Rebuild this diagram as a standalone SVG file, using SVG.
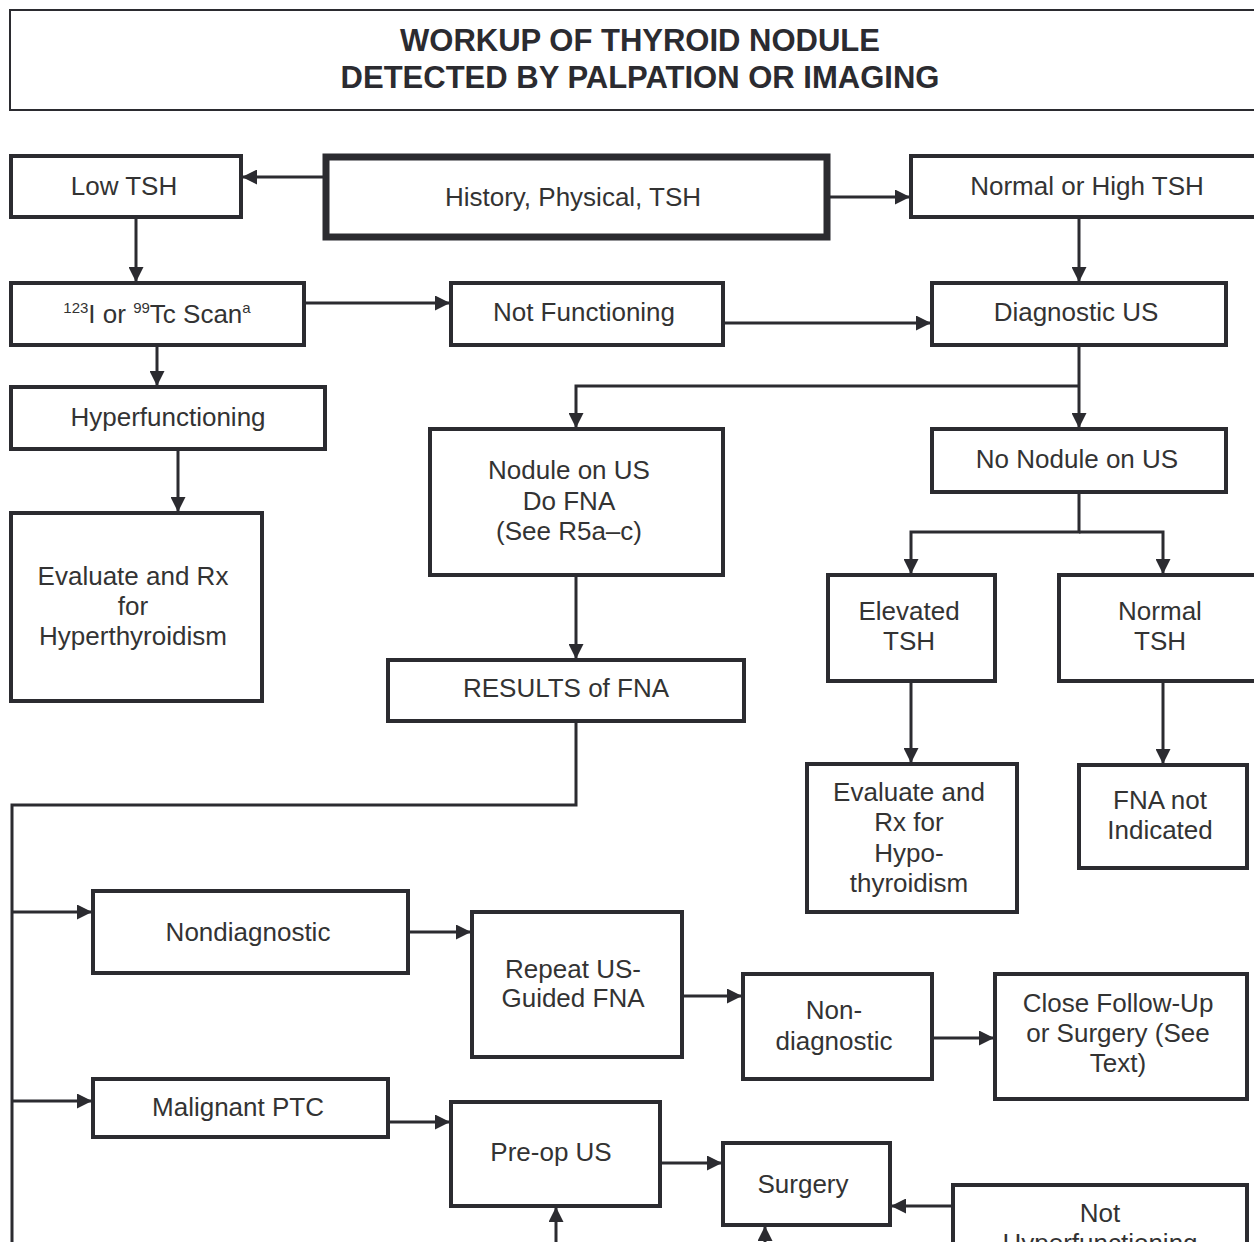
<svg xmlns="http://www.w3.org/2000/svg" width="1254" height="1242" viewBox="0 0 1254 1242">
<style>
.box{fill:#fff;stroke:#2b2b30;stroke-width:4}
.thick{stroke-width:7}
.title{fill:#fff;stroke:#2b2b30;stroke-width:2}
text{font-family:"Liberation Sans",Arial,sans-serif;font-size:26px;fill:#333;text-anchor:middle}
.tt{font-weight:bold;font-size:31px;fill:#2b2b30}
.sup{font-size:15px}
.conn path{fill:none;stroke:#2b2b30;stroke-width:3}
.arr{marker-end:url(#ah)}
</style>
<defs>
<marker id="ah" markerUnits="userSpaceOnUse" markerWidth="15" markerHeight="15" viewBox="0 0 15 15" refX="14" refY="7.5" orient="auto">
<path d="M0,0 L15,7.5 L0,15 z" fill="#2b2b30"/>
</marker>
</defs>
<rect width="1254" height="1242" fill="#fff"/>
<g id="title">
<rect class="title" x="10" y="10" width="1260" height="100"/>
<text class="tt" x="640" y="51">WORKUP OF THYROID NODULE</text>
<text class="tt" x="640" y="88">DETECTED BY PALPATION OR IMAGING</text>
</g>
<g class="conn">
<path class="arr" d="M323,177 H243"/>
<path class="arr" d="M830,197 H909"/>
<path class="arr" d="M136,218 V281"/>
<path class="arr" d="M305,303 H449"/>
<path class="arr" d="M724,323 H930"/>
<path class="arr" d="M1079,218 V281"/>
<path class="arr" d="M157,346 V385"/>
<path class="arr" d="M178,450 V511"/>
<path class="arr" d="M1079,346 V427"/>
<path class="arr" d="M1079,386 H576 V427"/>
<path class="arr" d="M1079,493 V532 H911 V573"/>
<path class="arr" d="M1079,532 H1163 V573"/>
<path class="arr" d="M576,576 V658"/>
<path class="arr" d="M911,682 V762"/>
<path class="arr" d="M1163,682 V763"/>
<path d="M576,722 V805 H12 V1242"/>
<path class="arr" d="M12,912 H91"/>
<path class="arr" d="M409,932 H470"/>
<path class="arr" d="M683,996 H741"/>
<path class="arr" d="M933,1038 H993"/>
<path class="arr" d="M12,1101 H91"/>
<path class="arr" d="M389,1122 H449"/>
<path class="arr" d="M661,1163 H721"/>
<path class="arr" d="M556,1242 V1208"/>
<path class="arr" d="M765,1242 V1227"/>
<path class="arr" d="M952,1206 H892"/>
</g>
<g id="history"><rect class="box thick" x="326" y="157" width="501" height="80"/><text x="573" y="206">History, Physical, TSH</text></g>
<g id="lowtsh"><rect class="box" x="11" y="156" width="230" height="61"/><text x="124" y="195">Low TSH</text></g>
<g id="normalhigh"><rect class="box" x="911" y="156" width="360" height="61"/><text x="1087" y="195">Normal or High TSH</text></g>
<g id="scan"><rect class="box" x="11" y="283" width="293" height="62"/><text x="157" y="323"><tspan class="sup" dy="-10">123</tspan><tspan dy="10">I or </tspan><tspan class="sup" dy="-10">99</tspan><tspan dy="10">Tc Scan</tspan><tspan class="sup" dy="-10">a</tspan></text></g>
<g id="notfunc"><rect class="box" x="451" y="283" width="272" height="62"/><text x="584" y="321">Not Functioning</text></g>
<g id="diagus"><rect class="box" x="932" y="283" width="294" height="62"/><text x="1076" y="321">Diagnostic US</text></g>
<g id="hyperfunc"><rect class="box" x="11" y="387" width="314" height="62"/><text x="168" y="426">Hyperfunctioning</text></g>
<g id="nodule"><rect class="box" x="430" y="429" width="293" height="146"/><text x="569" y="479">Nodule on US</text><text x="569" y="510">Do FNA</text><text x="569" y="540">(See R5a–c)</text></g>
<g id="nonodule"><rect class="box" x="932" y="429" width="294" height="63"/><text x="1077" y="468">No Nodule on US</text></g>
<g id="evalhyper"><rect class="box" x="11" y="513" width="251" height="188"/><text x="133" y="585">Evaluate and Rx</text><text x="133" y="615">for</text><text x="133" y="645">Hyperthyroidism</text></g>
<g id="elevated"><rect class="box" x="828" y="575" width="167" height="106"/><text x="909" y="620">Elevated</text><text x="909" y="650">TSH</text></g>
<g id="normaltsh"><rect class="box" x="1059" y="575" width="220" height="106"/><text x="1160" y="620">Normal</text><text x="1160" y="650">TSH</text></g>
<g id="results"><rect class="box" x="388" y="660" width="356" height="61"/><text x="566" y="697">RESULTS of FNA</text></g>
<g id="evalhypo"><rect class="box" x="807" y="764" width="210" height="148"/><text x="909" y="801">Evaluate and</text><text x="909" y="831">Rx for</text><text x="909" y="862">Hypo-</text><text x="909" y="892">thyroidism</text></g>
<g id="fnanot"><rect class="box" x="1079" y="765" width="168" height="103"/><text x="1160" y="809">FNA not</text><text x="1160" y="839">Indicated</text></g>
<g id="nondiag"><rect class="box" x="93" y="891" width="315" height="82"/><text x="248" y="941">Nondiagnostic</text></g>
<g id="repeat"><rect class="box" x="472" y="912" width="210" height="145"/><text x="573" y="978">Repeat US-</text><text x="573" y="1007">Guided FNA</text></g>
<g id="nondiag2"><rect class="box" x="743" y="974" width="189" height="105"/><text x="834" y="1019">Non-</text><text x="834" y="1050">diagnostic</text></g>
<g id="close"><rect class="box" x="995" y="974" width="252" height="125"/><text x="1118" y="1012">Close Follow-Up</text><text x="1118" y="1042">or Surgery (See</text><text x="1118" y="1072">Text)</text></g>
<g id="malignant"><rect class="box" x="93" y="1079" width="295" height="58"/><text x="238" y="1116">Malignant PTC</text></g>
<g id="preop"><rect class="box" x="451" y="1102" width="209" height="104"/><text x="551" y="1161">Pre-op US</text></g>
<g id="surgery"><rect class="box" x="723" y="1143" width="167" height="82"/><text x="803" y="1193">Surgery</text></g>
<g id="nothyper"><rect class="box" x="953" y="1185" width="294" height="100"/><text x="1100" y="1222">Not</text><text x="1100" y="1252">Hyperfunctioning</text></g>
</svg>
